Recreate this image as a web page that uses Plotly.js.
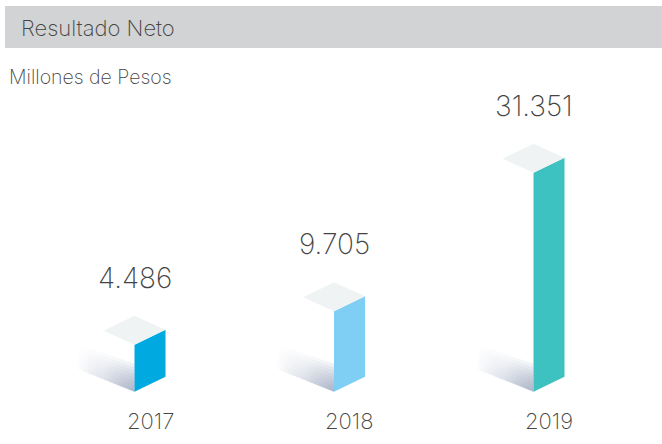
<!DOCTYPE html>
<html>
<head>
<meta charset="utf-8">
<script src="https://cdn.plot.ly/plotly-3.0.1.min.js"></script>
<style>html,body{margin:0;padding:0;background:#fff;}#chart{width:662px;height:444px;}</style>
</head>
<body>
<div id="chart"></div>
<script>
// ---- data ----
const years = ['2017', '2018', '2019'];
const values = [4486, 9705, 31351];
const valueLabels = ['4.486', '9.705', '31.351'];
const barColors = ['#00a9e0', '#7fcff4', '#3dc1c1'];
const chartTitle = 'Resultado Neto';
const unitLabel = 'Millones de Pesos';

// ---- layout / style constants ----
const W = 662, H = 444;
const FIRST_PX = 150, STEP_PX = 199.5;           // category slot placement
const xr = [-FIRST_PX / STEP_PX, (W - FIRST_PX) / STEP_PX];
const yr = [-11042, 58344];
const BASE = -2870;                               // ground level of the bars
const ux = (xr[1] - xr[0]) / W;                   // x units per pixel
const uy = (yr[1] - yr[0]) / H;                   // y units per pixel
const FW = 31, FR = 15, DX = 31, DY = 14;         // isometric face sizes (px)
const SH_LEN = 58, SH_H = 28, SH_LOW = 23, SH_HIGH = 48, SH_LAYERS = 8;
const TOP_COLOR = '#eff3f4';
const TEXT = '#444444';
const FONT = 'Inter';
const WEIGHT = 200;

const traces = [];
const annotations = [];

values.forEach((v, i) => {
  const xL = i - (FW / 2) * ux;
  const xR = xL + FW * ux;
  const rise = FR * uy;
  // layered ground shadow: darker towards the bottom and the front edge
  for (let k = 0; k < SH_LAYERS; k++) {
    const f = 1 - k / SH_LAYERS;
    traces.push({
      type: 'scatter', mode: 'lines', hoverinfo: 'skip', showlegend: false,
      x: [xL, xL, xL - SH_LEN * ux, xL - SH_LEN * ux, xL],
      y: [BASE, BASE + SH_H * f * uy, BASE + (SH_LOW + (SH_HIGH - SH_LOW) * f) * uy,
          BASE + SH_LOW * uy, BASE],
      fill: 'toself', line: {width: 0},
      fillcolor: 'rgba(145,158,184,0.1)',
      fillgradient: {type: 'horizontal',
        colorscale: [[0, 'rgba(145,158,184,0)'], [0.5, 'rgba(145,158,184,0.045)'],
                     [1, 'rgba(135,149,177,0.13)']]}
    });
  }
  // front face
  traces.push({
    type: 'scatter', mode: 'lines', hoverinfo: 'skip', showlegend: false,
    x: [xL, xR, xR, xL, xL],
    y: [BASE, BASE + rise, v + rise, v, BASE],
    fill: 'toself', fillcolor: barColors[i], line: {width: 0}
  });
  // top face
  traces.push({
    type: 'scatter', mode: 'lines', hoverinfo: 'skip', showlegend: false,
    x: [xL, xR, xR - DX * ux, xL - DX * ux, xL],
    y: [v, v + rise, v + rise + DY * uy, v + DY * uy, v],
    fill: 'toself', fillcolor: TOP_COLOR, line: {width: 0}
  });
  // value label
  annotations.push({
    x: xL, y: v + rise + DY * uy, xref: 'x', yref: 'y',
    text: valueLabels[i], showarrow: false, xanchor: 'center', yanchor: 'bottom',
    yshift: 19, font: {family: FONT, size: 28, color: TEXT, weight: WEIGHT}
  });
  // category label
  annotations.push({
    x: i, y: (H - 421) / H, xref: 'x', yref: 'paper',
    text: years[i], showarrow: false, xanchor: 'center', yanchor: 'middle',
    font: {family: FONT, size: 22, color: TEXT, weight: WEIGHT}
  });
});

annotations.push({
  x: 7 / W, y: 1 - 77 / H, xref: 'paper', yref: 'paper',
  text: unitLabel, showarrow: false, xanchor: 'left', yanchor: 'middle',
  font: {family: FONT, size: 19.5, color: TEXT, weight: WEIGHT}
});

const layout = {
  width: W, height: H,
  margin: {l: 0, r: 0, t: 0, b: 0, pad: 0},
  paper_bgcolor: '#ffffff', plot_bgcolor: '#ffffff',
  showlegend: false,
  title: {text: chartTitle, x: 21 / W, xanchor: 'left', xref: 'paper',
    y: 1 - 28.5 / H, yanchor: 'middle', yref: 'container',
    font: {family: FONT, size: 22, color: TEXT, weight: WEIGHT}},
  xaxis: {range: xr, visible: false, fixedrange: true},
  yaxis: {range: yr, visible: false, fixedrange: true},
  shapes: [{type: 'rect', xref: 'paper', yref: 'paper', layer: 'below',
    x0: 5 / W, x1: 1, y0: 1 - 48 / H, y1: 1 - 6 / H,
    fillcolor: '#d1d3d4', line: {width: 0}}],
  annotations: annotations
};

Plotly.newPlot('chart', traces, layout, {displayModeBar: false, staticPlot: true});
</script>
</body>
</html>
